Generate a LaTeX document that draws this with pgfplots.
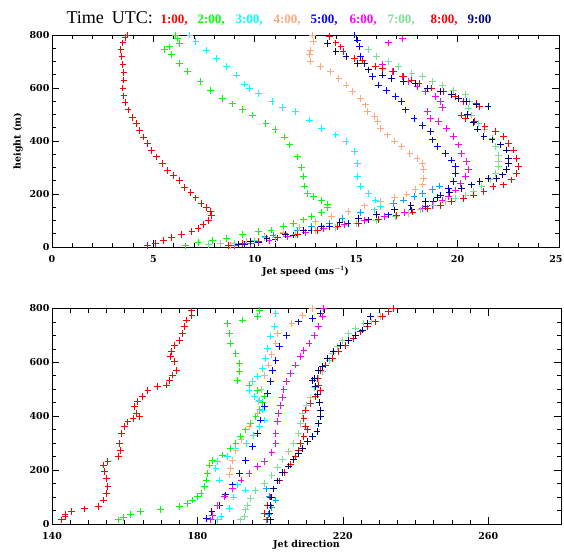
\documentclass[border=0pt]{standalone}
\usepackage{fontspec}
\setmainfont{Liberation Serif}
\newfontfamily\tickfont{DejaVu Serif}
\usepackage{pgfplots}
\pgfplotsset{compat=1.18}

\definecolor{c1}{RGB}{255,0,0}
\definecolor{c2}{RGB}{0,255,0}
\definecolor{c3}{RGB}{0,255,255}
\definecolor{c4}{RGB}{255,168,125}
\definecolor{c5}{RGB}{0,0,255}
\definecolor{c6}{RGB}{255,0,255}
\definecolor{c7}{RGB}{125,220,150}
\definecolor{c8}{RGB}{255,0,0}
\definecolor{c9}{RGB}{0,0,130}
\definecolor{csky}{RGB}{0,165,255}

\pgfplotsset{
  jet/.style={
    scale only axis,
    width=507pt,
    ymin=0, ymax=800,
    ytick={0,200,...,800},
    minor y tick num=3,
    tick align=inside,
    major tick length=7pt,
    minor tick length=4pt,
    axis line style={line width=1pt},
    every tick/.style={black, line width=0.7pt},
    /pgf/number format/assume math mode=true,
    ticklabel style={font=\tickfont\bfseries\fontsize{9.5}{9.5}\selectfont},
    xticklabel style={yshift=-5pt},
    yticklabel style={xshift=1pt},
    label style={font=\tickfont\bfseries\fontsize{9.5}{9.5}\selectfont},
    every axis plot/.append style={only marks, mark=+, mark size=3.4pt, line width=1pt},
  },
}

\begin{document}
\begin{tikzpicture}
\useasboundingbox (0,0) rectangle (564pt,-554pt);

% title
\node[anchor=base west, font=\fontsize{18}{18}\selectfont] at (63pt,-23pt) {Time\;\,UTC:};
\begin{scope}[every node/.style={anchor=base west, font=\bfseries\fontsize{13}{13}\selectfont}]
\node[c1] at (157pt,-23pt) {1:00,};
\node[c2] at (194pt,-23pt) {2:00,};
\node[c3] at (232pt,-23pt) {3:00,};
\node[c4] at (270pt,-23pt) {4:00,};
\node[c5] at (307pt,-23pt) {5:00,};
\node[c6] at (346pt,-23pt) {6:00,};
\node[c7] at (384pt,-23pt) {7:00,};
\node[c8] at (427pt,-23pt) {8:00,};
\node[c9] at (464pt,-23pt) {9:00};
\end{scope}

% ---------------- jet speed ----------------
\begin{axis}[jet,
  at={(52pt,-35pt)}, anchor=north west,
  height=212pt,
  xmin=0, xmax=25,
  xtick={0,5,...,25},
  xticklabels={0,5,10,15,20,\makebox[7pt][r]{25}},
  minor x tick num=4,
  xlabel={Jet speed (ms$^{\mathbf{-1}}$)},
  xlabel style={yshift=3pt},
  ylabel={height (m)},
]
\addplot[c1] coordinates {
(4.7,5)(5.1,14)(5.5,25)(5.9,36)(6.4,48)(6.9,60)(7.2,70)(7.45,85)(7.7,100)(7.85,120)
(7.8,135)(7.6,150)(7.35,165)(7.1,185)(6.85,205)(6.55,225)(6.3,250)(6.0,270)(5.7,290)
(5.45,315)(5.15,340)(4.9,365)(4.7,390)(4.5,415)(4.3,440)(4.15,465)(3.95,490)(3.75,517)
(3.6,545)(3.55,570)(3.5,600)(3.55,630)(3.55,660)(3.5,690)(3.45,720)(3.4,745)(3.5,770)
(3.6,790)(3.7,800)};
\addplot[c2] coordinates {
(6.6,4)(7.2,16)(7.9,26)(8.6,33)(9.4,47)(10.2,58)(10.8,64)(11.4,77)(11.9,89)(12.4,102)
(12.8,114)(13.3,130)(13.6,150)(13.6,160)(13.3,175)(12.9,190)(12.6,203)(12.45,230)
(12.4,265)(12.3,300)(12.1,340)(11.7,385)(11.45,415)(11.0,442)(10.55,467)(9.9,498)
(9.4,520)(8.9,540)(8.4,561)(7.8,592)(7.3,624)(6.7,662)(6.3,693)(5.9,725)(5.55,745)
(5.8,755)(6.3,769)(6.2,785)(6.1,800)};
\addplot[c3] coordinates {
(6.8,800)(7.1,775)(7.6,743)(8.1,712)(8.6,680)(9.1,649)(9.5,615)(9.75,599)(10.2,580)
(10.85,549)(11.35,525)(12.0,511)(12.7,479)(13.3,448)(14.0,423)(14.5,397)(14.9,360)
(15.05,316)(15.05,265)(15.2,228)(15.6,203)(15.95,177)(16.2,152)(15.9,140)};
\addplot[csky] coordinates {
(8.8,4)(9.6,20)(10.5,39)(10.9,45)(11.4,52)(12.1,64)(12.8,77)(13.7,89)(14.3,108)
(15.2,130)(16.85,165)(17.35,177)(17.85,190)(18.25,203)(18.75,218)(19.1,230)};
\addplot[c4] coordinates {
(12.85,800)(12.9,775)(12.75,743)(12.7,725)(12.75,699)(13.25,680)(13.75,662)(14.15,636)
(14.5,611)(14.8,586)(15.2,561)(15.45,536)(15.55,511)(15.9,492)(16.05,473)(16.2,448)
(16.55,423)(16.9,400)(17.25,378)(17.65,353)(18.0,335)(18.25,316)(18.33,291)(18.33,259)
(18.25,234)(17.9,218)(17.5,200)(16.9,187)(16.2,172)(15.4,155)(14.6,135)(13.8,115)
(13.0,95)(12.2,75)(11.4,55)(10.5,36)(9.6,20)(8.8,7)};
\addplot[c5] coordinates {
(14.9,800)(15.05,781)(15.15,756)(15.2,718)(15.4,693)(15.6,668)(15.8,643)(16.1,611)
(16.5,592)(16.95,567)(17.25,549)(17.45,517)(17.85,486)(18.25,460)(18.65,435)(18.75,404)
(19.0,378)(19.4,353)(19.7,328)(19.9,303)(19.9,278)(19.8,247)(19.55,222)(19.15,196)
(18.8,171)(18.4,152)(17.75,140)(16.6,121)(15.6,102)(14.6,89)(13.7,77)(12.8,62)
(11.9,45)(11.0,30)(10.2,18)(9.5,8)};
\addplot[c6] coordinates {
(17.3,785)(16.6,770)(16.3,690)(16.8,662)(17.3,643)(17.6,624)(18.0,605)(18.4,585)
(18.9,567)(19.15,549)(19.25,525)(18.5,511)(18.65,486)(19.05,473)(19.45,448)(19.8,416)
(20.05,385)(20.2,353)(20.45,322)(20.55,291)(20.4,265)(20.15,240)(19.9,215)(19.55,190)
(19.25,177)(18.75,158)(18.25,146)(17.4,130)(16.4,115)(15.4,100)(14.4,85)(13.4,70)
(12.5,55)(11.6,40)(10.7,25)(9.8,12)(9.0,5)};
\addplot[c7] coordinates {
(15.6,745)(16.0,720)(16.6,699)(17.1,680)(17.75,655)(18.25,643)(18.75,624)(19.25,611)
(19.8,592)(20.4,574)(20.6,549)(20.55,523)(20.7,498)(21.05,467)(21.35,442)(21.7,410)
(21.85,378)(22.0,347)(22.0,322)(22.0,303)(21.85,278)(21.6,253)(21.2,228)(20.8,209)
(20.4,196)(19.9,184)(19.4,171)(18.8,158)(18.15,140)(17.6,127)(16.95,114)(16.0,100)
(15.0,88)(14.0,75)(13.0,62)(12.0,48)(11.0,35)(10.0,24)(9.0,15)(8.3,12)(7.7,8)};
\addplot[c8] coordinates {
(13.7,794)(14.0,770)(14.25,755)(14.35,737)(14.9,712)(15.3,705)(15.95,680)(16.3,674)
(16.85,662)(17.35,643)(17.75,630)(18.1,617)(18.7,600)(19.3,586)(19.9,567)(20.3,549)
(20.95,542)(21.1,529)(20.2,498)(20.4,486)(20.85,473)(21.35,454)(21.85,435)(22.25,416)
(22.5,391)(22.75,366)(22.9,335)(23.0,303)(22.9,278)(22.65,253)(22.25,234)(21.75,228)
(21.3,209)(20.8,196)(20.3,184)(19.7,171)(19.15,158)(18.5,145)(17.8,132)(17.0,118)
(16.1,104)(15.1,90)(14.1,76)(13.1,62)(12.1,48)(11.1,34)(10.2,22)(9.4,12)(8.7,6)};
\addplot[c9] coordinates {
(13.6,769)(14.0,737)(14.5,718)(15.05,693)(15.6,668)(16.3,649)(16.75,636)(17.35,624)
(17.9,617)(18.5,599)(19.15,586)(19.7,574)(20.05,561)(20.45,549)(20.95,536)(21.5,529)
(20.5,500)(20.8,470)(21.0,445)(21.3,416)(21.7,404)(22.1,385)(22.4,366)(22.5,335)
(22.5,316)(22.4,291)(22.2,272)(21.9,259)(21.5,259)(21.1,247)(20.7,234)(20.2,222)
(19.6,205)(19.0,188)(18.4,172)(17.7,156)(16.9,140)(16.0,124)(15.1,108)(14.2,93)
(13.3,78)(12.4,62)(11.5,46)(10.6,32)(9.8,20)(9.2,10)};
\end{axis}

% ---------------- jet direction ----------------
\begin{axis}[jet,
  at={(52pt,-308.5pt)}, anchor=north west,
  width=509pt, height=215.5pt,
  xmin=140, xmax=280,
  xtick={140,180,220,260},
  minor x tick num=7,
  xlabel={Jet direction},
  xlabel style={yshift=6pt},
]
\addplot[c1] coordinates {
(142.7,15)(143.6,27)(143.6,37)(145.4,46)(149.0,56)(152.7,64)(154.1,89)(155.0,114)
(155.4,138)(155.0,170)(154.5,194)(154.1,219)(155.4,231)(158.2,250)(158.8,274)(158.6,299)
(159.1,336)(160.0,361)(160.9,379)(162.3,392)(164.1,398)(163.2,411)(162.7,435)(163.6,454)
(165.0,472)(166.4,497)(169.1,509)(171.4,516)(172.3,534)(173.2,553)(174.2,571)(173.7,602)
(172.5,621)(172.8,639)(173.7,664)(175.1,682)(176.0,707)(176.4,732)(176.9,757)(178.5,775)
(178.3,791)};
\addplot[c2] coordinates {
(158.2,15)(159.7,23)(161.6,36)(164.4,46)(169.8,55)(175.1,64)(177.3,77)(178.7,89)
(180.1,101)(181.0,114)(181.9,138)(182.4,163)(182.8,188)(183.3,219)(184.2,237)(186.9,256)
(189.2,281)(190.6,299)(191.9,324)(193.3,349)(194.7,373)(196.1,398)(197.2,425)(198.0,450)
(198.4,475)(196.5,497)(194.2,516)(191.0,534)(191.5,565)(191.5,596)(190.6,633)(189.2,670)
(188.8,707)(188.3,744)(192.4,757)(196.5,769)(197.0,794)};
\addplot[c3] coordinates {
(201.6,781)(201.1,732)(200.2,695)(199.3,652)(198.8,615)(197.9,578)(196.5,547)(195.2,528)
(194.2,497)(195.6,472)(197.0,460)(197.9,423)(198.4,386)(197.0,361)(195.5,330)(193.5,300)
(190.6,281)(188.3,250)(185.6,231)(185.1,206)(186.0,163)(191.0,145)(193.3,126)(190.0,100)
(188.8,58)(186.5,27)(185.6,15)};
\addplot[csky] coordinates {
(199,15)(199.5,35)(200.5,60)(201.6,89)(199.7,101)(199,130)};
\addplot[c4] coordinates {
(211.6,800)(208.9,775)(206,745)(202,707)(201.6,670)(200.5,630)(199.5,590)(198.5,550)
(197.5,500)(196.8,455)(196.5,410)(194.2,361)(192.0,312)(190.6,274)(189.7,237)(189.2,206)
(188.8,182)};
\addplot[c5] coordinates {
(182.4,21)(184,45)(186.0,70)(187.8,108)(189.7,145)(191.5,188)(193.3,237)(195.2,287)
(196.5,336)(197.4,386)(198.4,435)(199.3,485)(200.2,528)(200.6,571)(201.6,608)(202.5,658)
(204.5,700)(207.9,750)(211.6,763)(213.9,781)(214.8,800)};
\addplot[c6] coordinates {
(183.7,15)(184.2,33)(185.6,70)(187.4,101)(189.7,132)(192.0,163)(194.2,188)(196.5,213)
(198.4,231)(200.5,265)(201.6,299)(201.6,336)(202.0,380)(202.3,410)(202.8,440)(203.3,470)
(203.8,500)(204.5,530)(205.5,560)(207,590)(208.4,621)(209.3,645)(210.7,670)(212.1,701)
(213.4,732)(214.3,769)(214.8,800)};
\addplot[c7] coordinates {
(191.9,15)(192.9,27)(193.3,52)(193.8,70)(194.7,95)(196,125)(198.5,150)(200.5,180)
(202,210)(203.5,240)(205,270)(206.5,300)(207.9,336)(208.4,373)(208.9,410)(210,440)
(211,470)(212.3,505)(213.4,540)(214.3,565)(215.3,590)(216.2,608)(217.1,633)(218.4,658)
(219.8,682)(221.6,707)(223.5,726)(225.8,744)(228.0,750)(230.3,769)};
\addplot[c8] coordinates {
(199.3,15)(198.4,39)(199.3,70)(200,100)(201,130)(202.5,160)(204,190)(205.5,220)
(207,250)(207.9,274)(208.4,299)(209.3,324)(210.2,349)(209.8,361)(209.3,392)(209.8,423)
(211.1,447)(212.5,472)(213.9,497)(213.4,516)(213.0,540)(213.9,571)(215.3,590)(217.1,615)
(218.9,639)(220.7,664)(223.0,688)(224.9,713)(226.7,732)(229.0,750)(230.8,769)(232.6,788)
(234.0,800)};
\addplot[c9] coordinates {
(200,15)(199.8,40)(200,70)(200.3,100)(201,130)(202,160)(203.5,190)(205,215)
(206.5,240)(207.9,262)(208.9,281)(210.2,305)(211.6,324)(212.9,342)(213.4,373)(213.9,398)
(213.9,423)(213.5,450)(213,480)(212.5,510)(211.6,534)(212.1,540)(213.4,571)(214.3,584)
(215.7,615)(217.5,639)(219.4,664)(221.6,682)(223.5,701)(225.3,720)(226.7,744)(227.6,769)};
\end{axis}
\end{tikzpicture}
\end{document}
